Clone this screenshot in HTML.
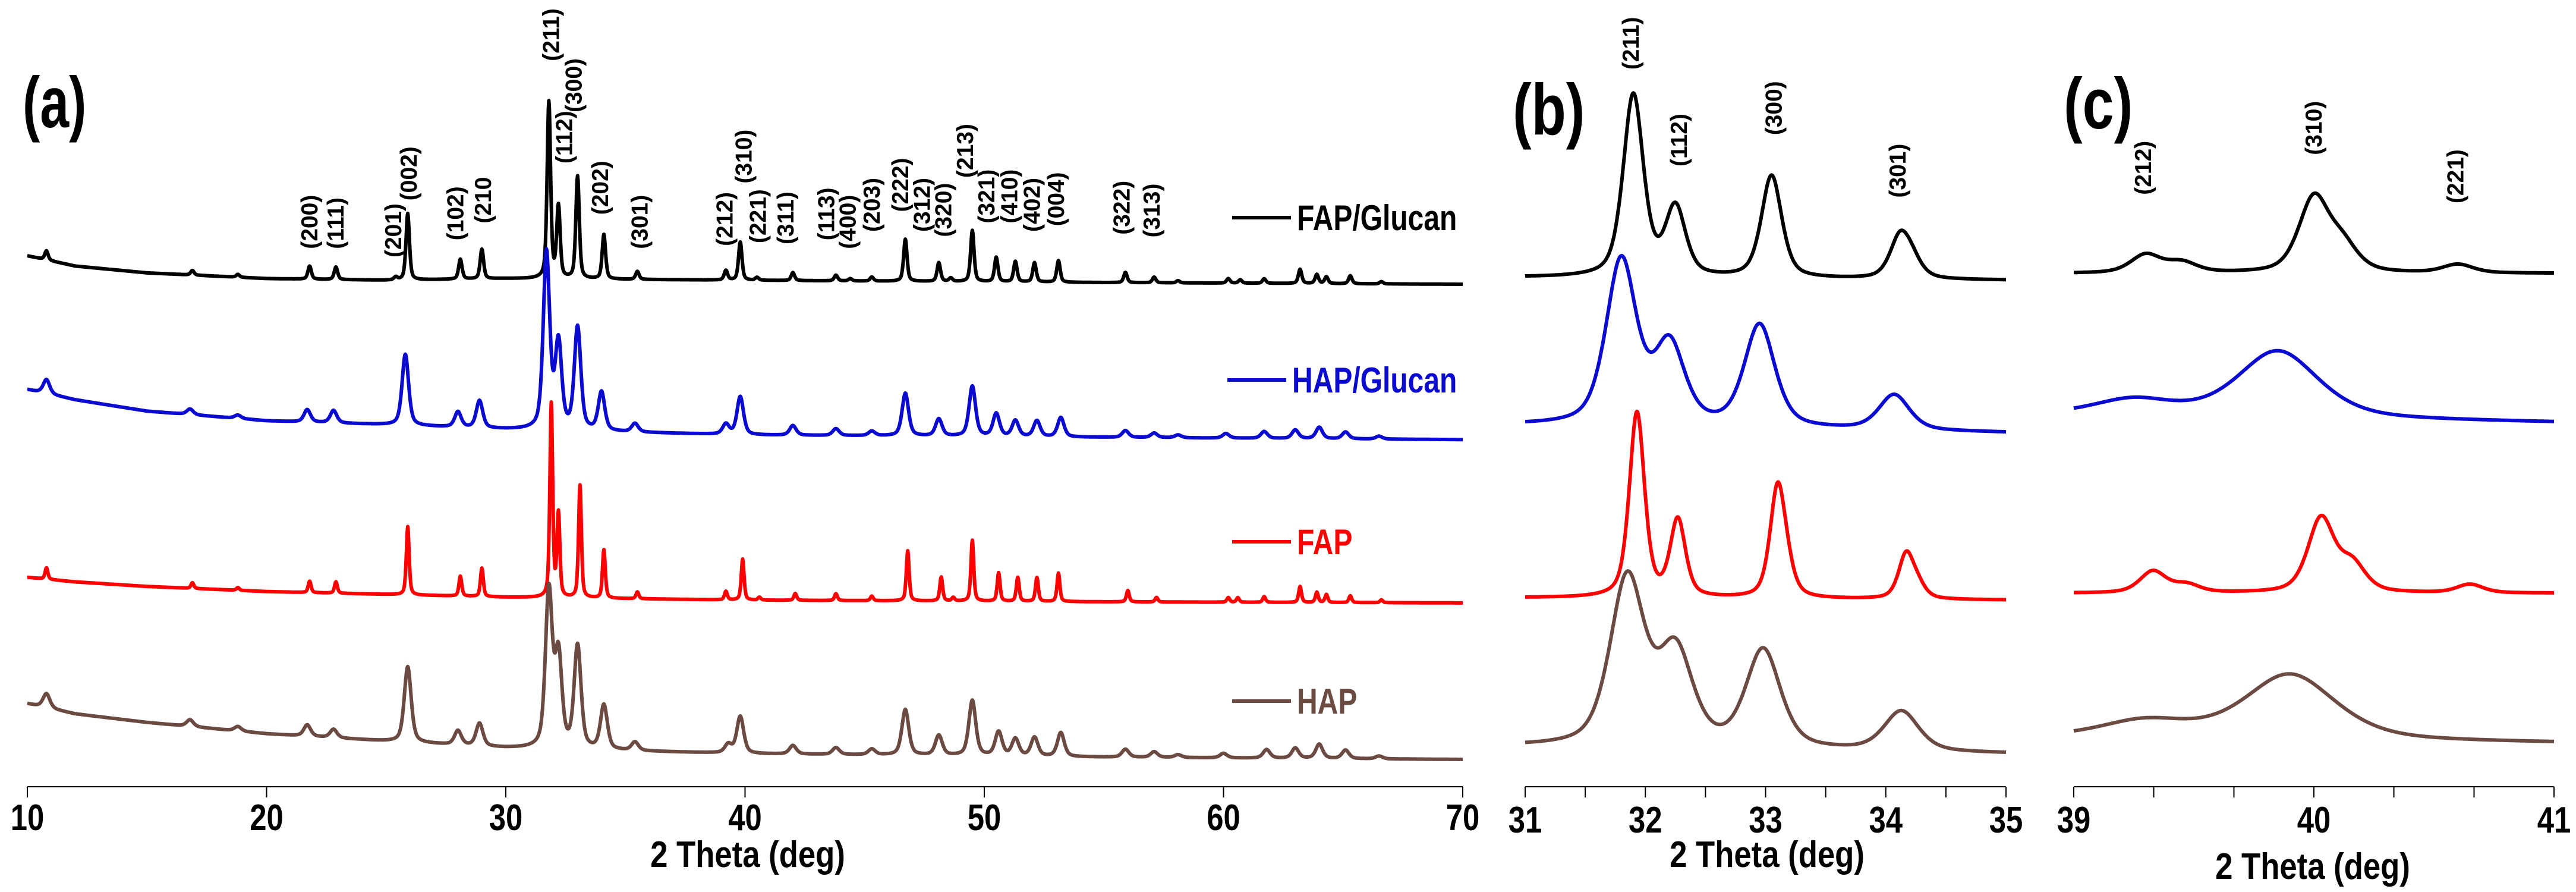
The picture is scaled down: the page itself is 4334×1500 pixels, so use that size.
<!DOCTYPE html>
<html><head><meta charset="utf-8"><style>
html,body{margin:0;padding:0;background:#fff;}
svg{display:block;font-family:"Liberation Sans",Arial,sans-serif;font-weight:bold;}
</style></head><body>
<svg id="chart" width="4334" height="1500" viewBox="0 0 4334 1500" xmlns="http://www.w3.org/2000/svg">
<rect x="0" y="0" width="4334" height="1500" fill="#fff"/>
</svg>
<script>
// ---------- data ----------
const seriesNames = ["FAP/Glucan", "HAP/Glucan", "FAP", "HAP"];
const seriesColors = ["#000000", "#0a0ad0", "#ff0000", "#6b4a42"];
// panel (a) backgrounds: [theta, intensity]
const aBgFG = [[10,933],[12,915],[15,903],[20,893],[25,890],[30,893],[40,890],[55,886],[70,883]];
const aBgHG = [[10,698],[12,680],[15,660],[20,643],[25,636],[30,628],[40,618],[55,614],[70,610]];
const aBgF  = [[10,368],[12,360],[15,352],[20,343],[25,338],[30,333],[40,328],[55,325],[70,323]];
const aBgH  = [[10,146],[12,128],[15,113],[20,93],[25,80],[30,68],[40,58],[55,52],[70,48]];
// panel (a) peaks: [theta, height]
const aPkFG = [[10.8,16],[16.9,8],[18.8,5],[21.8,23],[22.9,22],[25.4,5],[25.9,117],[28.1,35],[29.0,52],[31.8,310],[32.2,125],[33.0,180],[34.1,78],[35.5,14],[39.2,17],[39.8,67],[40.5,5],[42.0,14],[43.8,10],[44.4,4],[45.3,7],[46.7,74],[48.1,33],[48.6,6],[49.5,90],[50.5,43],[51.3,36],[52.1,34],[53.1,38],[55.9,18],[57.1,10],[58.1,4],[60.2,8],[60.7,6],[61.7,8],[63.2,25],[63.9,16],[64.3,12],[65.3,14],[66.6,4]];
const aPkHG = [[10.8,25],[16.8,10],[18.8,6],[21.7,22],[22.8,22],[25.8,125],[28.0,27],[28.9,48],[31.7,310],[32.2,150],[33.0,180],[34.0,68],[35.4,15],[39.2,18],[39.8,67],[42.0,17],[43.8,12],[45.3,8],[46.7,75],[48.1,30],[49.5,88],[50.5,40],[51.3,28],[52.2,28],[53.2,34],[55.9,12],[57.1,8],[58.1,5],[60.1,8],[61.7,12],[63.0,15],[64.0,20],[65.1,12],[66.5,5]];
const aPkF  = [[10.8,20],[16.9,10],[18.8,5],[21.8,20],[22.9,20],[25.9,120],[28.1,35],[29.0,50],[31.9,340],[32.2,145],[33.1,198],[34.1,85],[35.5,12],[39.2,15],[39.9,72],[40.6,5],[42.1,12],[43.8,12],[45.3,8],[46.8,88],[48.2,42],[48.7,6],[49.5,107],[50.6,50],[51.4,42],[52.2,42],[53.1,50],[56.0,20],[57.2,8],[60.2,8],[60.6,8],[61.7,10],[63.2,28],[63.9,18],[64.3,14],[65.3,12],[66.6,5]];
const aPkH  = [[10.8,25],[16.8,12],[18.8,8],[21.7,20],[22.8,15],[25.9,133],[28.0,25],[28.9,40],[31.8,275],[32.2,160],[33.0,180],[34.1,78],[35.4,15],[39.3,15],[39.8,65],[42.0,15],[43.8,12],[45.3,10],[46.7,80],[48.1,35],[49.5,97],[50.6,42],[51.3,30],[52.1,33],[53.2,42],[55.9,14],[57.1,10],[58.1,5],[60.0,8],[61.8,15],[63.0,18],[64.0,25],[65.1,15],[66.5,5]];
const aWidths = [0.17, 0.32, 0.14, 0.34];
// panel (b)
const bBg = [[895,890],[635,622],[332,328],[70,58]];
const bPkFG = [[31.9,320],[32.25,120],[33.05,180],[34.12,72],[34.22,25]];
const bPkHG = [[31.8,290],[32.2,140],[32.95,180],[34.07,62]];
const bPkF  = [[31.93,325],[32.27,135],[33.1,190],[33.18,30],[34.17,78],[34.27,20]];
const bPkH  = [[31.85,295],[32.25,165],[32.98,172],[34.13,70]];
const bWidths = [0.2, 0.3, 0.15, 0.34];
// panel (c)
const cBg = [[902,902],[652,640],[340,340],[85,77]];
const cPkFG = [[39.3,32],[39.45,18],[40.0,130],[40.12,45],[40.6,15]];
const cPkHG = [[39.25,28],[39.85,118]];
const cPkF  = [[39.33,38],[39.47,14],[40.03,130],[40.16,48],[40.65,15]];
const cPkH  = [[39.3,30],[39.9,115]];
const cWidths = [0.15, 0.4, 0.13, 0.45];
// ticks
const aTicks = [10,20,30,40,50,60,70];
const bTicks = [31,32,33,34,35];
const bMinor = [31.5,32.5,33.5,34.5];
const cTicks = [39,40,41];
const cMinor = [39.333,39.667,40.333,40.667];
// hkl labels: [text, theta, labelBottomIntensity]
const aHkl = [["(200)",21.8,945],["(111)",22.9,945],["(201)",25.3,930],["(002)",25.95,1030],["(102)",27.9,960],["(210",29.05,990],["(211)",31.9,1275],["(112)",32.45,1095],["(300)",32.85,1185],["(202)",33.95,1005],["(301)",35.6,945],["(212)",39.15,950],["(310)",39.95,1060],["(221)",40.55,955],["(311)",41.7,953],["(113)",43.4,960],["(400)",44.3,945],["(203)",45.3,975],["(222)",46.5,1010],["(312)",47.4,975],["(320)",48.3,966],["(213)",49.2,1070],["(321)",50.1,990],["(410)",51.05,990],["(402)",52.0,975],["(004)",53.0,985],["(322)",55.75,970],["(313)",57.0,965]];
const bHkl = [["(211)",31.88,1260],["(112)",32.28,1090],["(300)",33.07,1145],["(301)",34.1,1035]];
const cHkl = [["(212)",39.29,1040],["(310)",40.0,1110],["(221)",40.59,1025]];

// ---------- helpers ----------
const NS = "http://www.w3.org/2000/svg";
const svg = document.getElementById("chart");
const AXIS_Y = 1323, YS = 1.045;
function yOf(v){ return AXIS_Y - v / YS; }
function xScale(t0,t1,p0,p1){ return t => p0 + (t - t0) * (p1 - p0) / (t1 - t0); }
function pv(x, c, w){ const d=(x-c)/(w/2); const L=1/(1+d*d); const G=Math.exp(-Math.log(2)*d*d); return 0.5*L+0.5*G; }
function interp(bg, t){ for(let i=0;i<bg.length-1;i++){ if(t<=bg[i+1][0]){ const f=(t-bg[i][0])/(bg[i+1][0]-bg[i][0]); return bg[i][1]+f*(bg[i+1][1]-bg[i][1]); } } return bg[bg.length-1][1]; }
function el(tag, attrs, parent){ const e=document.createElementNS(NS,tag); for(const k in attrs) e.setAttribute(k, attrs[k]); (parent||svg).appendChild(e); return e; }
function txt(str, x, y, size, anchor, sx, parent, rot){
  const t = document.createElementNS(NS,"text");
  t.setAttribute("transform", "translate("+x+","+y+")"+(rot?" rotate(-90)":"")+" scale("+sx+",1)");
  t.setAttribute("font-size", size);
  t.setAttribute("text-anchor", anchor);
  t.textContent = str;
  (parent||svg).appendChild(t);
  return t;
}
function drawCurve(g, xs, t0, t1, step, bgFn, peaks, w, color, name){
  let d="";
  for(let t=t0; t<=t1+1e-9; t+=step){
    let v=bgFn(t);
    for(const p of peaks) v += p[1]*pv(t,p[0],w);
    d += (d?"L":"M") + xs(t).toFixed(1) + "," + yOf(v).toFixed(1);
  }
  const p = el("path", {d:d, fill:"none", stroke:color, "stroke-width":6, "stroke-linejoin":"round"}, g);
  
  
}
function drawAxis(g, xs, t0, t1, ticks, minor, tickY, titleX, titleY, name){
  const ax = el("line", {x1:xs(t0), x2:xs(t1), y1:AXIS_Y, y2:AXIS_Y, stroke:"#000", "stroke-width":2}, g);
  
  
  for(const t of ticks.concat(minor)){
    const tk = el("line", {x1:xs(t), x2:xs(t), y1:AXIS_Y, y2:AXIS_Y+18, stroke:"#000", "stroke-width":2}, g);
    
    
  }
  for(const t of ticks){
    const lb = txt(String(t), xs(t), tickY, 62, "middle", 0.82, g);
    
    
  }
  const ti = txt("2 Theta (deg)", titleX, titleY, 62, "middle", 0.85, g);
  
  
}
function drawHkl(g, xs, list, name){
  for(const h of list){
    const t = txt(h[0], xs(h[1])+13, yOf(h[2]), 39, "start", 1, g, true);
    
    
  }
}

// ---------- panel a ----------
const ga = el("g", {});  
const xa = xScale(10,70,46,2461);
const aBgs=[aBgFG,aBgHG,aBgF,aBgH], aPks=[aPkFG,aPkHG,aPkF,aPkH];
for(let i=0;i<4;i++){
  drawCurve(ga, xa, 10, 70, 0.02, t=>interp(aBgs[i],t), aPks[i], aWidths[i], seriesColors[i], 'panel-a-curve-'+['fap-glucan','hap-glucan','fap','hap'][i]);
}
drawAxis(ga, xa, 10, 70, aTicks, [], 1396, 1258, 1458, 'panel-a');
drawHkl(ga, xa, aHkl, 'panel-a');
const la = txt("(a)", 38, 214, 122, "start", 0.72, ga);  
// legend
const legY = [366, 639, 911, 1179], legX0=[2073,2065,2073,2073], legX1=[2172,2164,2172,2172], legTX=[2182,2174,2182,2182];
for(let i=0;i<4;i++){
  const ln = el("line", {x1:legX0[i], x2:legX1[i], y1:legY[i], y2:legY[i], stroke:seriesColors[i], "stroke-width":6}, ga);
  
  
  const lt = txt(seriesNames[i], legTX[i], legY[i]+21, 60, "start", 0.8, ga);
  lt.setAttribute('fill', seriesColors[i]);
  
  
}

// ---------- panel b ----------
const gb = el("g", {});  
const xb = xScale(31,35,2566,3375);
const bPks=[bPkFG,bPkHG,bPkF,bPkH];
for(let i=0;i<4;i++){
  const bg=bBg[i];
  drawCurve(gb, xb, 31, 35, 0.005, t=>bg[0]+(t-31)/4*(bg[1]-bg[0]), bPks[i], bWidths[i], seriesColors[i], 'panel-b-curve-'+['fap-glucan','hap-glucan','fap','hap'][i]);
}
drawAxis(gb, xb, 31, 35, bTicks, bMinor, 1400, 2973, 1458, 'panel-b');
drawHkl(gb, xb, bHkl, 'panel-b');
const lb = txt("(b)", 2545, 226, 122, "start", 0.78, gb);  

// ---------- panel c ----------
const gc = el("g", {});  
const xc = xScale(39,41,3489,4297);
const cPks=[cPkFG,cPkHG,cPkF,cPkH];
for(let i=0;i<4;i++){
  const bg=cBg[i];
  drawCurve(gc, xc, 39, 41, 0.004, t=>bg[0]+(t-39)/2*(bg[1]-bg[0]), cPks[i], cWidths[i], seriesColors[i], 'panel-c-curve-'+['fap-glucan','hap-glucan','fap','hap'][i]);
}
drawAxis(gc, xc, 39, 41, cTicks, cMinor, 1400, 3891, 1478, 'panel-c');
drawHkl(gc, xc, cHkl, 'panel-c');
const lc = txt("(c)", 3472, 216, 122, "start", 0.78, gc);  
</script>
</body></html>
